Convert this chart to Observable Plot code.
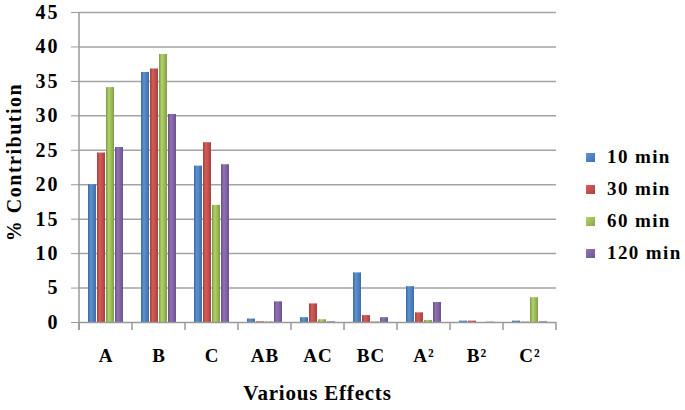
<!DOCTYPE html>
<html><head><meta charset="utf-8">
<script src="https://cdn.jsdelivr.net/npm/d3@7"></script>
<script src="https://cdn.jsdelivr.net/npm/@observablehq/plot@0.6"></script>
<style>
body{margin:0;background:#fff;}
#chart{position:relative;width:685px;height:410px;font-family:'Liberation Serif','Times New Roman',serif;font-weight:bold;}
#legend{position:absolute;left:586px;top:141px;}
.item{display:flex;align-items:center;height:32px;font-size:19px;letter-spacing:1.4px;font-family:'Liberation Serif','Times New Roman',serif;}
.sw{width:9px;height:9px;margin-right:12px;}
svg text{font-family:'Liberation Serif','Times New Roman',serif;}
</style></head><body>
<div id="chart"><div id="legend"></div></div>
<script>
const categories = ["A","B","C","AB","AC","BC","A²","B²","C²"];
const series = ["10 min","30 min","60 min","120 min"];
const v10  = [20.0, 36.3, 22.7, 0.5, 0.7, 7.2, 5.2, 0.2, 0.2];
const v30  = [24.6, 36.8, 26.1, 0.1, 2.7, 1.0, 1.4, 0.2, 0.05];
const v60  = [34.1, 38.9, 17.0, 0.1, 0.4, 0.1, 0.3, 0.0, 3.6];
const v120 = [25.4, 30.2, 22.9, 3.0, 0.1, 0.7, 2.9, 0.05, 0.1];
const yTicks = [0,5,10,15,20,25,30,35,40,45];
const colors = ["#4f81bd","#c0504d","#9bbb59","#8064a2"];

const seriesValues = [v10, v30, v60, v120];
const data = [];
categories.forEach((c, i) => series.forEach((s, j) => data.push({effect: c, series: s, value: seriesValues[j][i]})));

const plot = Plot.plot({
  width: 685, height: 410,
  marginLeft: 77, marginRight: 127, marginTop: 12, marginBottom: 88,
  style: {fontFamily: "'Liberation Serif','Times New Roman',serif", fontWeight: "bold", fontSize: "18px", color: "#000", background: "transparent"},
  fx: {domain: categories, padding: 0, label: null},
  x: {domain: series, paddingInner: 0.1, paddingOuter: 0.72, axis: null},
  y: {domain: [0, 45], label: null},
  color: {domain: series, range: colors},
  marks: [
    Plot.gridY(yTicks.slice(1), {stroke: "#a3a3a3", strokeOpacity: 1, strokeWidth: 1.5}),
    Plot.axisY(yTicks, {tickSize: 8, tickPadding: 12, stroke: "#999", fontSize: 20, label: null}),
    Plot.axisFx({anchor: "bottom", tickSize: 0, tickPadding: 26, fontSize: 19, label: null}),
    Plot.barY(data, {fx: "effect", x: "series", y: "value", fill: "series"}),
    Plot.ruleY([0], {stroke: "#999", strokeWidth: 1.5})
  ]
});
document.getElementById("chart").prepend(plot);

const svg = d3.select(plot);
svg.selectAll("g[aria-label='y-axis tick label'] text").style("letter-spacing", "2px");
svg.selectAll("g[aria-label='fx-axis tick label'] text").style("letter-spacing", "1px");
// gradients for cylinder-like shading
const defs = svg.append("defs");
colors.forEach((c, i) => {
  const base = d3.color(c);
  const g = defs.append("linearGradient").attr("id", "g" + i).attr("x1", 0).attr("x2", 1).attr("y1", 0).attr("y2", 0);
  g.append("stop").attr("offset", "0%").attr("stop-color", base.darker(0.6));
  g.append("stop").attr("offset", "35%").attr("stop-color", base.brighter(0.35));
  g.append("stop").attr("offset", "100%").attr("stop-color", base.darker(0.5));
});
svg.selectAll("g[aria-label=bar] rect").each(function() {
  const f = (this.getAttribute("fill") || "").toLowerCase();
  const i = colors.indexOf(f);
  if (i >= 0) this.setAttribute("fill", `url(#g${i})`);
});

// axis line and category boundary ticks using the plot's own scales
const fx = plot.scale("fx"), y = plot.scale("y");
const y0 = y.apply(0), yTop = y.apply(45);
const xs = categories.map(c => fx.apply(c)).concat([fx.apply(categories[categories.length - 1]) + fx.bandwidth]);
svg.append("line").attr("x1", xs[0]).attr("x2", xs[0]).attr("y1", yTop).attr("y2", y0 + 8)
  .attr("stroke", "#999").attr("stroke-width", 1.5);
xs.forEach(x => svg.append("line").attr("x1", x).attr("x2", x).attr("y1", y0).attr("y2", y0 + 8)
  .attr("stroke", "#999").attr("stroke-width", 1.5));

// titles
svg.append("text").attr("x", (xs[0] + xs[xs.length - 1]) / 2).attr("y", 393).attr("dy", "0.35em")
  .attr("text-anchor", "middle").attr("font-size", 21).attr("font-weight", "bold").attr("fill", "#000")
  .style("letter-spacing", "0.8px").text("Various Effects");
svg.append("text").attr("transform", `translate(14,162) rotate(-90)`).attr("dy", "0.35em")
  .attr("text-anchor", "middle").attr("font-size", 20).attr("font-weight", "bold").attr("fill", "#000")
  .style("letter-spacing", "1.5px").text("% Contribution");

// legend
const legend = d3.select("#legend");
series.forEach((s, i) => {
  const it = legend.append("div").attr("class", "item");
  it.append("div").attr("class", "sw").style("background", `linear-gradient(135deg, ${d3.color(colors[i]).brighter(0.4)}, ${d3.color(colors[i]).darker(0.4)})`);
  it.append("span").text(s);
});
</script>
</body></html>
